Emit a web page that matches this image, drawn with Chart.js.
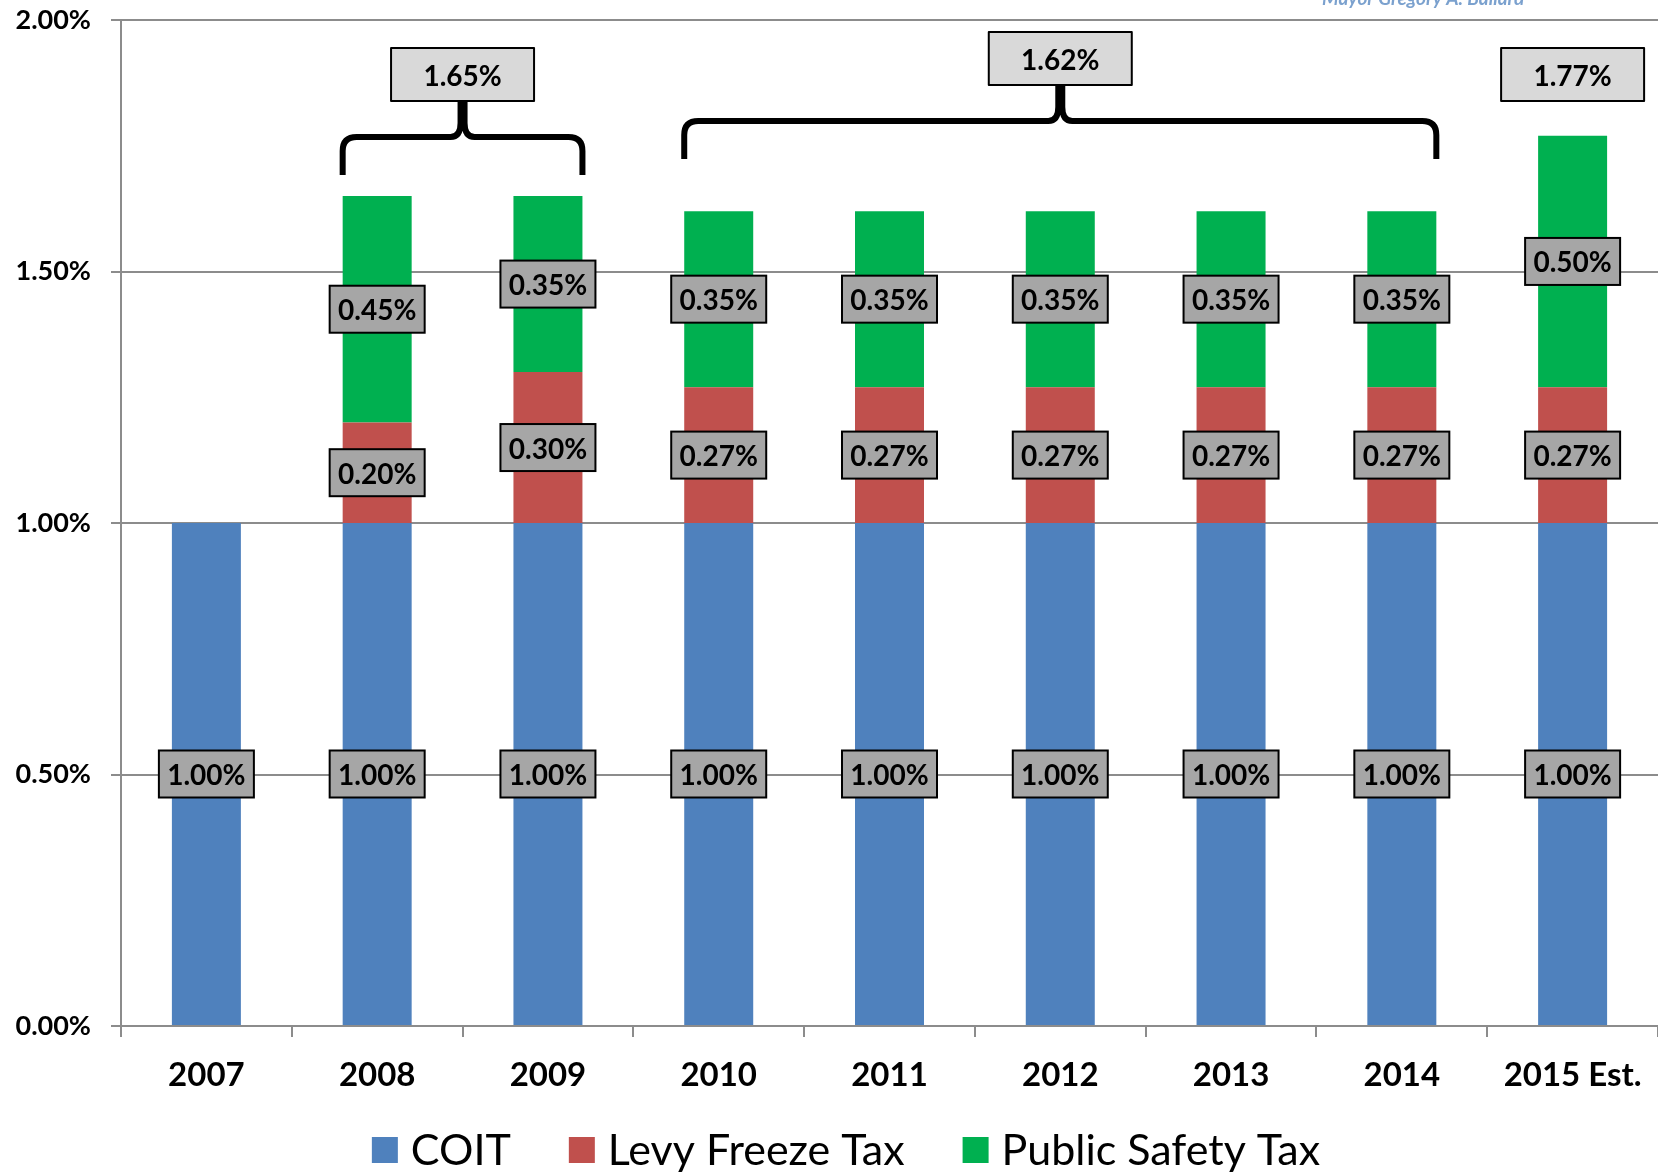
<!DOCTYPE html>
<html>
<head>
<meta charset="utf-8">
<title>Income tax rates</title>
<script src="https://cdn.jsdelivr.net/npm/chart.js@4.4.1/dist/chart.umd.min.js"></script>
<style>
  html, body { margin: 0; padding: 0; background: #fff; }
</style>
</head>
<body>
<canvas id="taxChart" width="1658" height="1172"></canvas>
<script>
// data (percent)
const years = ['2007', '2008', '2009', '2010', '2011', '2012', '2013', '2014', '2015 Est.'];
const coit = [1.00, 1.00, 1.00, 1.00, 1.00, 1.00, 1.00, 1.00, 1.00];
const levyFreeze = [0, 0.20, 0.30, 0.27, 0.27, 0.27, 0.27, 0.27, 0.27];
const publicSafety = [0, 0.45, 0.35, 0.35, 0.35, 0.35, 0.35, 0.35, 0.50];
const seriesNames = ['COIT', 'Levy Freeze Tax', 'Public Safety Tax'];

// total callouts: first and last year index each one covers
const groupFrom = [1, 3, 8];
const groupTo = [2, 7, 8];

const colors = ['#4f81bd', '#c0504d', '#00b050'];
const FONT = 'Lato, "Open Sans", sans-serif';

function pct(v) {
  return v.toFixed(2) + '%';
}

function drawBox(ctx, cx, cy, w, h, fill, text) {
  ctx.fillStyle = fill;
  ctx.fillRect(cx - w / 2, cy - h / 2, w, h);
  ctx.lineWidth = 2;
  ctx.strokeStyle = '#000';
  ctx.strokeRect(cx - w / 2, cy - h / 2, w, h);
  ctx.fillStyle = '#000';
  ctx.textAlign = 'center';
  ctx.textBaseline = 'alphabetic';
  ctx.fillText(text, cx, cy + 11);
}

// labels in the middle of every segment
const segmentLabels = {
  id: 'segmentLabels',
  afterDatasetsDraw(chart) {
    const ctx = chart.ctx;
    ctx.save();
    ctx.font = 'bold 28px ' + FONT;
    chart.data.datasets.forEach((ds, di) => {
      chart.getDatasetMeta(di).data.forEach((bar, i) => {
        const v = ds.data[i];
        if (!v) return;
        const p = bar.getProps(['x', 'y', 'base'], true);
        drawBox(ctx, p.x, (p.y + p.base) / 2, 95, 47, '#a6a6a6', pct(v));
      });
    });
    ctx.restore();
  }
};

// total boxes with curly brackets
const totalCallouts = {
  id: 'totalCallouts',
  afterDatasetsDraw(chart, args, opts) {
    const ctx = chart.ctx;
    const xs = chart.scales.x;
    const meta = chart.getDatasetMeta(0);
    const half = meta.data[0].width / 2;
    ctx.save();
    groupFrom.forEach((from, g) => {
      const to = groupTo[g];
      const total = coit[from] + levyFreeze[from] + publicSafety[from];
      const x1 = xs.getPixelForValue(from) - half;
      const x2 = xs.getPixelForValue(to) + half;
      const xc = (xs.getPixelForValue(from) + xs.getPixelForValue(to)) / 2;
      const boxTop = chart.chartArea.top + opts.boxOffsets[g];
      const boxBottom = boxTop + 53;
      if (to > from) {
        const yH = boxBottom + 36;
        const yEnd = boxBottom + 74;
        const r = 14;
        ctx.beginPath();
        ctx.lineWidth = 6;
        ctx.strokeStyle = '#000';
        ctx.lineJoin = 'round';
        ctx.moveTo(x1, yEnd);
        ctx.lineTo(x1, yH + r);
        ctx.quadraticCurveTo(x1, yH, x1 + r, yH);
        ctx.lineTo(xc - 12, yH);
        ctx.quadraticCurveTo(xc - 2, yH, xc - 2, yH - 14);
        ctx.lineTo(xc - 2, boxBottom);
        ctx.lineTo(xc + 2, boxBottom);
        ctx.lineTo(xc + 2, yH - 14);
        ctx.quadraticCurveTo(xc + 2, yH, xc + 12, yH);
        ctx.lineTo(x2 - r, yH);
        ctx.quadraticCurveTo(x2, yH, x2, yH + r);
        ctx.lineTo(x2, yEnd);
        ctx.stroke();
      }
      ctx.font = 'bold 28px ' + FONT;
      drawBox(ctx, xc, boxTop + 26.5, 143, 53, '#d9d9d9', pct(total));
    });
    ctx.restore();
  }
};

// legend and the cut-off credit line
const legendAndCredit = {
  id: 'legendAndCredit',
  afterDraw(chart) {
    const ctx = chart.ctx;
    ctx.save();
    ctx.font = '43px ' + FONT;
    ctx.textBaseline = 'alphabetic';
    ctx.textAlign = 'left';
    const gap = 58, box = 26, tx = 13;
    let total = 0;
    seriesNames.forEach((n, i) => {
      total += box + tx + ctx.measureText(n).width + (i ? gap : 0);
    });
    let x = 846 - total / 2;
    const cy = 1150;
    seriesNames.forEach((n, i) => {
      ctx.fillStyle = colors[i];
      ctx.fillRect(x, cy - box / 2, box, box);
      ctx.fillStyle = '#000';
      ctx.fillText(n, x + box + tx, cy + 15);
      x += box + tx + ctx.measureText(n).width + gap;
    });

    ctx.font = 'italic bold 19px ' + FONT;
    ctx.fillStyle = 'rgba(79,129,189,0.75)';
    ctx.fillText('Mayor Gregory A. Ballard', 1322, 5);
    ctx.restore();
  }
};

function noPad(scale) {
  scale.paddingTop = 0;
  scale.paddingBottom = 0;
  scale.paddingLeft = 0;
  scale.paddingRight = 0;
}

new Chart(document.getElementById('taxChart'), {
  type: 'bar',
  data: {
    labels: years,
    datasets: [
      { label: seriesNames[0], data: coit, backgroundColor: colors[0] },
      { label: seriesNames[1], data: levyFreeze, backgroundColor: colors[1] },
      { label: seriesNames[2], data: publicSafety, backgroundColor: colors[2] }
    ]
  },
  options: {
    responsive: false,
    animation: false,
    devicePixelRatio: 1,
    categoryPercentage: 0.404,
    barPercentage: 1,
    layout: { padding: { top: 20, right: 0, bottom: 76, left: 0 } },
    plugins: {
      legend: { display: false },
      tooltip: { enabled: false },
      totalCallouts: { boxOffsets: [28, 12, 28] }
    },
    scales: {
      x: {
        stacked: true,
        grid: { drawOnChartArea: false, color: '#8c8c8c', lineWidth: 2, tickLength: 11 },
        border: { color: '#8c8c8c', width: 2 },
        ticks: { color: '#000', font: { family: FONT, size: 33, weight: 'bold' }, padding: 19, maxRotation: 0 },
        afterFit(scale) { scale.height = 70; noPad(scale); }
      },
      y: {
        stacked: true,
        min: 0,
        max: 2,
        grid: { color: '#8c8c8c', lineWidth: 2, tickLength: 10 },
        border: { color: '#8c8c8c', width: 2 },
        ticks: {
          stepSize: 0.5,
          color: '#000',
          padding: 20,
          font: { family: FONT, size: 27, weight: 'bold' },
          callback: (v) => pct(v)
        },
        afterFit(scale) { scale.width = 121; noPad(scale); }
      }
    }
  },
  plugins: [segmentLabels, totalCallouts, legendAndCredit]
});
</script>
</body>
</html>
